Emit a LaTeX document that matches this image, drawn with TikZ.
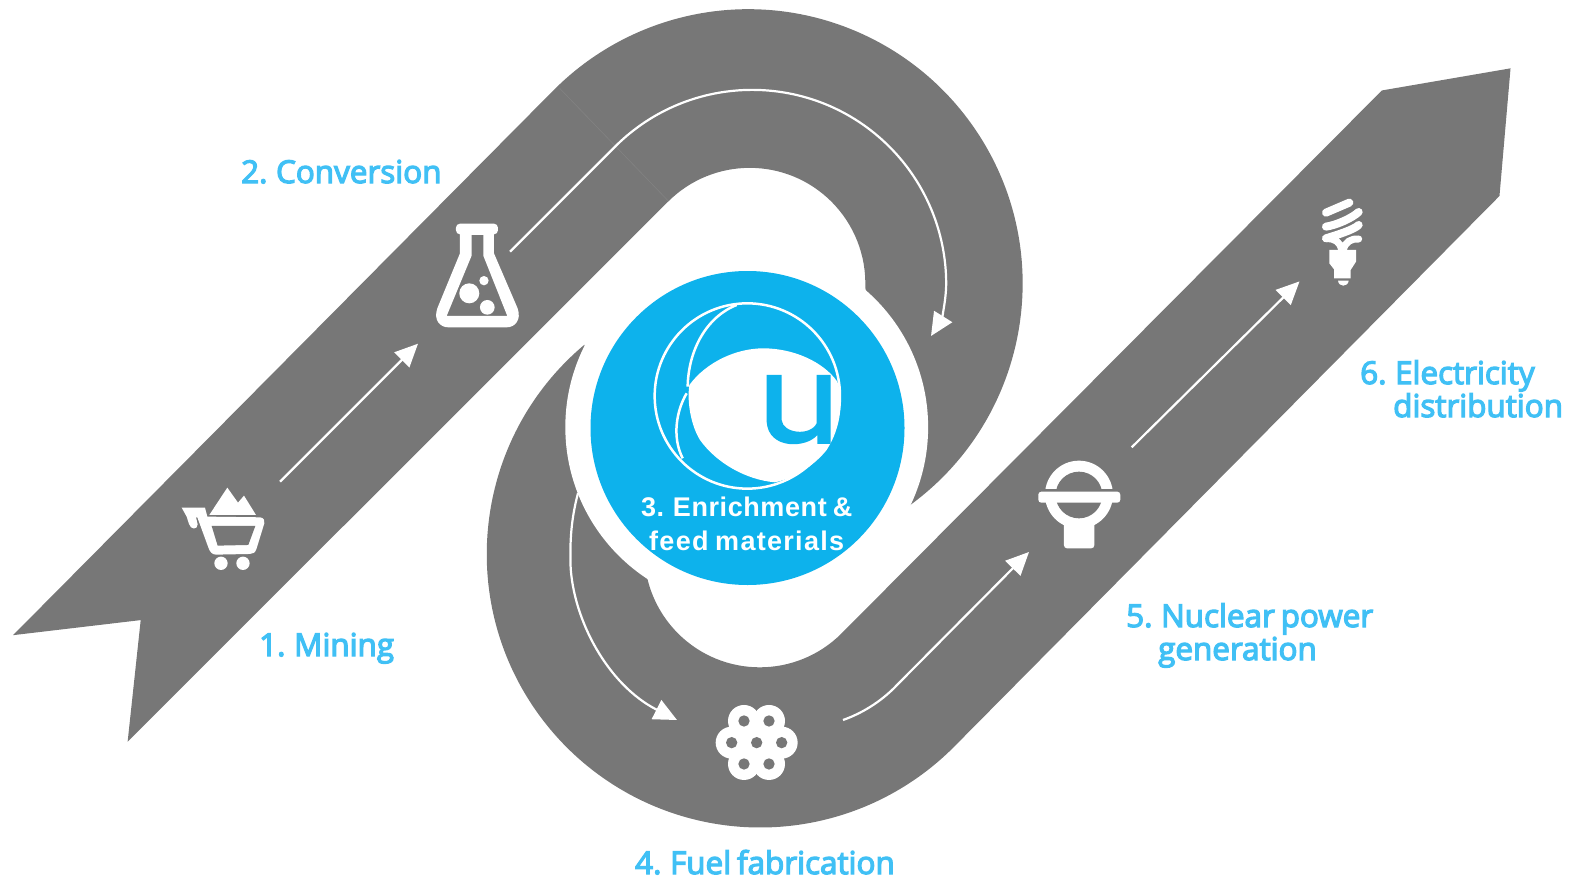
\documentclass[tikz,border=0pt]{standalone}
\usepackage{fontspec}
\usetikzlibrary{arrows.meta}
\newfontfamily\labfont[FakeBold=4,WordSpace=0.72]{Open Sans}
\newfontfamily\cenfont[LetterSpace=2.2,WordSpace=0.75]{Liberation Sans Bold}
\newfontfamily\cenfontwide[LetterSpace=4.8,WordSpace=0.75]{Liberation Sans Bold}
\definecolor{road}{HTML}{777777}
\definecolor{skyblue}{HTML}{40C0F5}
\definecolor{disc}{HTML}{0DB2EC}
\tikzset{
  ribbon/.style={fill=road,draw=none},
  flow/.style={draw=white,line width=2.2pt,-{Triangle[length=23pt,width=21pt,fill=white]}},
  stage/.style={text=skyblue,inner sep=0pt,font=\labfont\fontsize{31.4}{33}\selectfont,align=left},
  icon/.style={fill=white,draw=none},
  hole/.style={fill=road,draw=none},
  centretext/.style={text=white,inner sep=0pt,font=\cenfont\fontsize{27}{34}\selectfont,align=center}
}
\begin{document}
\begin{tikzpicture}[x=1pt,y=-1pt]
\useasboundingbox (0,0) rectangle (1576,880);
% ribbons (measured on a grid 1.005 smaller)
\begin{scope}[x=1.005pt,y=-1.005pt]
\filldraw[ribbon] (13,632) -- (140,617) -- (127,738) -- (664.7,200.7)
   arc[start angle=-135,end angle=2,radius=115]
   -- (905,503) arc[start angle=54,end angle=-135,radius=273] -- cycle;
\draw[draw=road!92!white,line width=0.6pt] (557,88) -- (665,200);
\filldraw[ribbon] (581.5,343) arc[start angle=-130,end angle=-315,radius=272]
   -- (1492,195) -- (1503,68) -- (1375,90) -- (837.3,630.3)
   arc[start angle=45,end angle=166,radius=115] -- cycle;
\fill[white] (743,425) circle[radius=180.5];
\end{scope}
% disc
\fill[disc] (747.5,428) circle[radius=157];
% logo
\begin{scope}[shift={(560,250)},x=0.3333pt,y=-0.3333pt]
\fill[white] (388,405) .. controls (440,335) and (530,295) .. (610,295)
  .. controls (700,295) and (790,335) .. (832,395)
  .. controls (850,450) and (845,530) .. (800,600)
  .. controls (760,650) and (700,685) .. (645,697)
  .. controls (560,690) and (470,640) .. (420,570)
  .. controls (395,530) and (380,460) .. (388,405) -- cycle;
\draw[white,line width=2.5pt] (562,438) circle[radius=278];
\draw[white,line width=2.5pt] (530,165) .. controls (440,200) and (385,300) .. (383,410)
  (380,430) .. controls (350,480) and (335,560) .. (368,625);
\fill[disc] (620,375) -- (665,375) -- (665,510) .. controls (668,550) and (750,560) .. (770,520)
  -- (770,375) -- (812,375) -- (812,582) -- (772,582) -- (772,555)
  .. controls (740,595) and (625,600) .. (620,515) -- cycle;
\end{scope}
\node[centretext,anchor=base] (stage3a) at (746.7,516.7) {3. Enrichment \&};
\node[centretext,anchor=base,font=\cenfontwide\fontsize{27}{34}\selectfont] (stage3b) at (746.7,550.7) {feed materials};
% cart
\begin{scope}[shift={(150,190)},x=0.3333pt,y=-0.3333pt]
\fill[icon] (95,953) -- (165,953) -- (172,980) -- (330,982) .. controls (342,984) and (345,992) .. (343,1000)
  -- (320,1075) .. controls (316,1088) and (310,1092) .. (300,1092) -- (198,1094)
  .. controls (186,1094) and (180,1085) .. (176,1075) -- (142,982) -- (138,982) -- (143,1003)
  .. controls (143,1020) and (122,1020) .. (117,1002) -- (110,980) -- cycle;
\fill[hole] (185,1008) -- (316,1008) -- (295,1065) -- (203,1067) -- cycle;
\fill[icon] (178,975) -- (232,893) -- (264,938) -- (282,917) -- (318,975) -- cycle;
\fill[icon] (213,1120) circle[radius=20] (279,1120) circle[radius=20];
% flask
\fill[icon,rounded corners=4pt] (918,101) rectangle (1044,133);
\fill[icon,even odd rule] (930,125) -- (930,190) -- (862,355)
   .. controls (850,390) and (870,412) .. (895,412) -- (1070,412)
   .. controls (1095,412) and (1115,390) .. (1103,355) -- (1032,190) -- (1032,125) -- cycle
   (965,135) -- (1000,135) -- (1000,197) -- (1072,378) -- (890,378) -- (965,197) -- cycle;
\fill[icon] (958,310) circle[radius=30] (1012,352) circle[radius=22] (1002,272) circle[radius=14];
\end{scope}
% fuel pellets and lamp
\begin{scope}[shift={(690,440)},x=0.3333pt,y=-0.3333pt]
\foreach \px/\py in {162/843,237/843,125/908,275/908,162/972,237/972,200/908}
  \fill[icon] (\px,\py) circle[radius=48];
\foreach \px/\py in {162/843,237/843,125/908,275/908,162/972,237/972,200/908}
  \fill[hole] (\px,\py) circle[radius=17];
\fill[icon] (1167,164) circle[radius=102];
\fill[icon,rounded corners=3pt] (1122,240) -- (1122,325) -- (1213,325) -- (1213,240) -- cycle;
\fill[hole] (1167,165) circle[radius=70];
\fill[hole] (1060,147) rectangle (1275,155);
\fill[icon,rounded corners=3pt] (1045,155) rectangle (1291,188);
\end{scope}
% spiral bulb
\begin{scope}[shift={(1260,170)},x=0.3333pt,y=-0.3333pt]
\draw[white,line width=8pt,line cap=round] (198,128) -- (268,98);
\draw[white,line width=8pt,line cap=round] (198,170) .. controls (230,165) and (275,145) .. (296,126);
\draw[white,line width=8pt,line cap=round] (198,205) .. controls (230,195) and (280,180) .. (296,165);
\draw[white,line width=7pt,line cap=round] (198,206) .. controls (225,205) and (240,215) .. (245,240);
\draw[white,line width=7pt,line cap=round] (296,207) .. controls (275,205) and (255,215) .. (250,240);
\fill[icon] (208,240) -- (288,240) -- (288,275) -- (272,300) -- (272,325) -- (222,325) -- (222,298) -- (208,280) -- cycle;
\fill[icon] (234,332) -- (266,332) .. controls (264,352) and (236,352) .. (234,332) -- cycle;
\end{scope}
% connectors
\coordinate (a1s) at (280,481.7); \coordinate (a1e) at (418,343.7);
\coordinate (a2s) at (510,251.7); \coordinate (a2e) at (931,336);
\coordinate (a3s) at (578,493);   \coordinate (a3e) at (677,720);
\coordinate (a4s) at (843,720);   \coordinate (a4e) at (1029,552);
\coordinate (a5s) at (1131.7,447.3); \coordinate (a5e) at (1299.5,281.4);
\draw[flow] (a1s) -- (a1e);
\draw[flow] (a2s) -- (615,146.7) arc[start angle=-135,end angle=0,radius=194]
   .. controls (946,302) and (941,320) .. (a2e);
\draw[flow] (a3s) .. controls (571,520) and (570,540) .. (570.5,565) .. controls (573,620) and (608,685) .. (a3e);
\draw[flow] (a4s) .. controls (860,714) and (880,703) .. (897,685) -- (a4e);
\draw[flow] (a5s) -- (a5e);
% labels
\node[stage,anchor=base west] (stage1) at (259,656) {1. Mining};
\node[stage,anchor=base west] (stage2) at (241,183) {2. Conversion};
\node[stage,anchor=base west] (stage4) at (635,874) {4. Fuel fabrication};
\node[stage,anchor=base west] (stage5a) at (1126,627) {5. Nuclear power};
\node[stage,anchor=base west] (stage5b) at (1158,660) {generation};
\node[stage,anchor=base west] (stage6a) at (1360,384) {6. Electricity};
\node[stage,anchor=base west] (stage6b) at (1393,417) {distribution};
\end{tikzpicture}
\end{document}
